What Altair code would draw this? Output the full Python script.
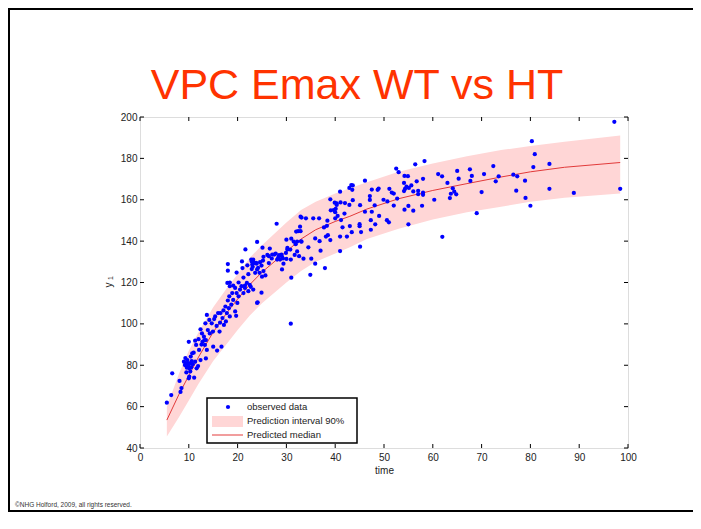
import altair as alt
import pandas as pd

# ---------------- data ----------------
obs_time = [
    5.5, 6.4, 6.6, 8.1, 8.5, 8.3, 9.0, 9.2, 9.4, 9.6, 9.7, 9.9, 10.1, 10.0, 10.1, 10.2, 10.4, 10.0, 10.5, 10.7,
    11.0, 11.1, 11.3, 11.3, 11.5, 11.6, 11.9, 12.0, 12.1, 12.4, 12.6, 12.8, 13.2, 13.3, 13.5, 13.7, 13.5, 12.4,
    12.7, 13.1, 13.4, 13.7, 13.9, 14.3, 14.2, 14.7, 14.95, 15.0, 15.2, 15.4, 15.7, 15.8, 16.0, 16.3, 16.4, 16.5,
    16.7, 16.9, 17.1, 17.2, 17.5, 17.6, 17.8, 18.0, 18.2, 18.3, 18.4, 18.7, 18.9, 19.1, 19.5, 19.7, 19.8, 19.95,
    20.2, 20.5, 20.8, 21.2, 21.5, 21.9, 22.2, 22.7, 23.2, 24.1, 17.9, 18.4, 19.5,
    9.3, 9.8, 10.3, 10.6, 9.5, 10.8,
    21.6, 20.9, 21.0, 18.0, 18.0, 22.0, 22.9, 23.2, 23.8, 19.8, 21.2, 22.2, 22.9, 18.4, 19.1, 20.2, 21.5, 22.5,
    32.9, 32.8, 32.9, 32.0, 32.4, 33.0, 32.2, 31.5, 31.9, 32.2, 32.6, 31.7, 30.8, 31.0, 30.9, 31.0, 30.0, 30.2,
    29.9, 30.0, 29.3, 29.0, 29.1, 28.7, 28.3, 28.5, 28.0, 27.8, 27.5, 27.0, 26.6, 26.4, 26.4, 26.1, 25.3, 25.1,
    25.2, 24.6, 24.9, 24.0, 24.0, 24.5, 22.8, 23.4, 23.0, 23.9, 23.6, 25.7, 25.3, 25.0, 24.2, 23.1, 29.4, 29.1,
    30.2, 28.1, 27.1, 30.9, 24.0, 24.9,
    97.2, 98.4, 88.9, 83.9, 83.9, 80.9, 80.3, 80.6, 80.0, 79.0, 78.9, 77.1, 77.3, 76.5, 73.5, 72.9, 72.4, 70.5,
    70.0, 69.0, 68.0, 67.7, 67.6, 65.3, 65.0, 64.8, 64.4, 64.1, 63.7, 63.5, 63.0, 61.95, 61.9, 61.1, 60.3, 58.3,
    58.0, 58.0, 58.0, 57.8, 57.0, 57.0, 56.7, 56.4, 56.0, 56.0, 55.6, 55.1, 54.9, 54.6, 54.3, 54.1, 54.2, 54.1,
    55.0, 55.0, 54.2, 53.0, 52.5, 52.7, 52.0, 51.6, 52.0, 51.1, 50.7, 51.0, 50.6, 49.9, 49.0, 48.7, 48.9, 48.1,
    48.2, 47.5, 47.5, 47.3, 47.3, 47.1, 47.1, 46.1, 46.1, 45.3, 45.1, 45.1, 45.0, 45.0, 43.6, 43.5, 43.6, 43.4,
    43.0, 43.3, 42.9, 42.9, 42.4, 42.0, 41.9, 41.5, 41.0, 41.0, 41.2, 41.1, 41.0, 40.5, 40.3, 40.0, 40.1, 40.3,
    40.0, 39.9, 39.7, 39.1, 39.0, 39.0, 38.5, 38.1, 37.9, 38.4, 38.3, 37.7, 37.0, 36.8, 36.7, 35.9, 35.9, 35.5,
    35.1, 34.9, 34.5, 34.0, 33.1, 33.5, 33.1,
]
obs_value = [
    61.9, 65.6, 76.1, 72.4, 69.0, 67.1, 81.7, 80.1, 80.9, 78.8, 82.5, 79.9, 78.5, 73.7, 74.5, 80.9, 84.2, 91.3, 79.0, 85.8,
    86.1, 74.0, 91.9, 81.7, 89.8, 78.5, 79.6, 92.6, 87.4, 82.5, 90.0, 91.3, 92.2, 89.8, 83.3, 87.4, 92.2, 97.4,
    95.4, 93.8, 100.3, 104.3, 97.0, 95.4, 101.9, 100.3, 96.3, 89.0, 102.3, 103.6, 99.0, 87.1, 105.2, 96.3, 100.6, 105.2,
    89.0, 102.8, 106.5, 99.5, 108.4, 101.2, 105.2, 111.3, 107.6, 113.3, 103.6, 109.3, 114.9, 111.6, 106.0, 103.9, 114.9, 110.1,
    113.3, 116.6, 118.2, 114.9, 117.4, 119.8, 115.8, 117.9, 116.6, 110.4, 119.8, 118.2, 117.4,
    83.5, 81.0, 77.0, 82.0, 76.5, 80.5,
    136.0, 130.2, 127.0, 128.9, 125.7, 128.3, 130.2, 131.0, 129.5, 124.8, 122.4, 124.0, 126.5, 120.0, 118.5, 120.0, 118.5, 118.8,
    151.8, 147.0, 144.8, 144.6, 144.8, 139.9, 139.8, 139.8, 138.5, 135.0, 132.7, 133.3, 135.9, 141.2, 131.1, 122.3, 140.7, 135.9,
    134.3, 131.4, 131.6, 133.5, 132.4, 131.1, 131.9, 133.2, 148.4, 134.0, 133.5, 131.6, 136.4, 132.7, 129.4, 133.3, 132.4, 136.8,
    130.6, 129.8, 128.2, 139.6, 126.3, 124.7, 131.1, 129.5, 128.7, 129.1, 124.7, 123.4, 125.5, 122.8, 127.1, 127.6, 129.1, 126.3,
    136.7, 131.1, 133.5, 100.1, 110.1, 115.1,
    197.7, 165.3, 163.3, 177.3, 165.3, 182.0, 188.3, 175.8, 157.1, 160.9, 169.2, 164.4, 171.3, 172.1, 171.3, 168.9, 176.3, 172.4,
    163.7, 153.5, 171.5, 169.1, 174.7, 170.2, 173.9, 162.6, 163.9, 165.5, 162.9, 160.8, 168.1, 142.1, 171.3, 172.4, 160.0, 178.7,
    170.1, 163.4, 162.4, 157.1, 164.3, 162.7, 168.9, 177.1, 164.0, 154.7, 166.9, 165.7, 171.4, 166.3, 165.2, 164.2, 171.5, 168.1,
    148.1, 157.0, 155.2, 173.3, 175.1, 160.6, 157.2, 163.5, 163.0, 165.3, 159.2, 149.1, 150.1, 160.0, 152.2, 164.8, 165.4, 157.3,
    148.1, 164.9, 154.2, 145.5, 150.1, 159.9, 161.8, 169.2, 154.2, 144.4, 157.4, 137.3, 147.2, 148.2, 166.9, 164.8, 159.8, 144.3,
    147.3, 167.1, 165.7, 157.5, 142.2, 158.4, 153.3, 146.7, 135.2, 142.2, 150.2, 158.7, 163.9, 152.2, 157.5, 154.0, 155.6, 158.2,
    151.0, 158.6, 155.0, 154.9, 160.2, 140.5, 142.9, 142.2, 127.0, 149.9, 147.4, 146.6, 135.4, 140.0, 151.0, 129.1, 141.3, 151.0,
    131.5, 123.7, 137.0, 151.0, 151.4, 131.5, 139.7,
]

band_time = [5.5, 8, 10, 12, 15, 18, 20, 22.5, 25, 30, 33, 36, 40, 43, 46.5, 53, 60, 67, 74, 80, 87, 98.4]
band_median = [53.5, 66, 75, 84, 96, 106, 112, 119, 125, 135, 141, 145.5, 149.5, 152, 155.5, 160.5, 164.5, 167.8, 171, 173.5, 175.7, 178]
band_lower = [45.5, 55, 63, 71, 82, 91, 97, 104, 110, 120, 125.5, 130, 134, 137, 141, 146, 150.5, 154, 156.6, 159, 161, 163]
band_upper = [60, 76, 87, 96, 108, 118, 124, 132, 138, 149, 155, 159, 163, 165.5, 168.5, 173.5, 177.5, 181, 184, 186, 188, 191]

x_ticks = [0, 10, 20, 30, 40, 50, 60, 70, 80, 90, 100]
y_ticks = [40, 60, 80, 100, 120, 140, 160, 180, 200]

legend_labels = ["observed data", "Prediction interval 90%", "Predicted median"]
title_text = "VPC Emax WT vs HT"
x_title = "time"
copyright_text = "\u00a9NHG Holford, 2009, all rights reserved."

# ---------------- layout ----------------
W, H = 488, 331
PAD = {"left": 132, "top": 109, "right": 65, "bottom": 64}
FONT = "Liberation Sans"

obs = pd.DataFrame({"t": obs_time, "v": obs_value})
band = pd.DataFrame({"t": band_time, "v": band_median, "lo": band_lower, "hi": band_upper})
xt = pd.DataFrame({"t": x_ticks})
yt = pd.DataFrame({"v": y_ticks})
one = pd.DataFrame({"a": [1]})

xs = alt.Scale(domain=[0, 100], nice=False, zero=False)
ys = alt.Scale(domain=[40, 200], nice=False, zero=False)

x_axis = alt.Axis(values=x_ticks, ticks=False, domain=False, grid=False, labelFont=FONT,
                  labelFontSize=10, labelColor="#222222", labelPadding=4, labelFlush=False,
                  titleFont=FONT, titleFontSize=10, titleFontWeight="normal", titleColor="#222222",
                  titlePadding=3)
y_axis = alt.Axis(values=y_ticks, ticks=False, domain=False, grid=False, labelFont=FONT,
                  labelFontSize=10, labelColor="#222222", labelPadding=3, labelFlush=False)

X = alt.X("t:Q", scale=xs, axis=x_axis, title=x_title)
Y = alt.Y("v:Q", scale=ys, axis=y_axis, title=None)

band_area = alt.Chart(band).mark_area(color="#ffd6d6", opacity=1).encode(
    x=X, y=alt.Y("lo:Q", scale=ys, axis=y_axis, title=None), y2="hi:Q")
median_line = alt.Chart(band).mark_line(color="#e23a3a", strokeWidth=1).encode(x=X, y=Y)
points = alt.Chart(obs).mark_circle(color="#0000ff", opacity=1, size=18).encode(x=X, y=Y)

xtick_bot = alt.Chart(xt).mark_rule(color="black", strokeWidth=1).encode(
    x=X, y=alt.value(H), y2=alt.value(H - 4))
xtick_top = alt.Chart(xt).mark_rule(color="black", strokeWidth=1).encode(
    x=X, y=alt.value(0), y2=alt.value(4))
ytick_l = alt.Chart(yt).mark_rule(color="black", strokeWidth=1).encode(
    y=Y, x=alt.value(0), x2=alt.value(4))
ytick_r = alt.Chart(yt).mark_rule(color="black", strokeWidth=1).encode(
    y=Y, x=alt.value(W - 4), x2=alt.value(W))

# legend box
leg_box = alt.Chart(one).mark_rect(fill="white", stroke="black", strokeWidth=1.5).encode(
    x=alt.value(67), x2=alt.value(217), y=alt.value(281), y2=alt.value(326))
leg_dot = alt.Chart(one).mark_circle(color="#0000ff", opacity=1, size=18).encode(
    x=alt.value(88), y=alt.value(290))
leg_band = alt.Chart(one).mark_rect(fill="#ffd6d6").encode(
    x=alt.value(72), x2=alt.value(103), y=alt.value(299), y2=alt.value(310))
leg_line = alt.Chart(one).mark_rect(fill="#e23a3a").encode(
    x=alt.value(72), x2=alt.value(103), y=alt.value(317.5), y2=alt.value(318.5))
leg_texts = [
    alt.Chart(one).mark_text(text=lbl, font=FONT, fontSize=9.5, color="#222222", align="left",
                             baseline="middle").encode(x=alt.value(107), y=alt.value(yy))
    for lbl, yy in zip(legend_labels, [290, 304, 318])
]

# title, y label, copyright, slide frame
title = alt.Chart(one).mark_text(text=title_text, font=FONT, fontSize=43,
                                 color="#ff3300", align="center", baseline="alphabetic").encode(
    x=alt.value(217), y=alt.value(-18))
ylab = alt.Chart(one).mark_text(text="y", font=FONT, fontSize=10, color="#222222", angle=270,
                                align="center", baseline="middle").encode(x=alt.value(-31.5), y=alt.value(168))
ysub = alt.Chart(one).mark_text(text="1", font=FONT, fontSize=7, color="#222222", angle=270,
                                align="center", baseline="middle").encode(x=alt.value(-29), y=alt.value(161))
copy = alt.Chart(one).mark_text(text=copyright_text, font=FONT, fontSize=6.5, color="#333333",
                                align="left", baseline="middle").encode(x=alt.value(-125), y=alt.value(388))
# slide frame (left, top and bottom sides) as thin filled bars
RIGHT = W + PAD["right"]
frame_top = alt.Chart(one).mark_rect(fill="black").encode(
    x=alt.value(-132), x2=alt.value(RIGHT), y=alt.value(-109), y2=alt.value(-107))
frame_left = alt.Chart(one).mark_rect(fill="black").encode(
    x=alt.value(-132), x2=alt.value(-130), y=alt.value(-109), y2=alt.value(395))
frame_bot = alt.Chart(one).mark_rect(fill="black").encode(
    x=alt.value(-132), x2=alt.value(RIGHT), y=alt.value(393), y2=alt.value(395))

chart = alt.layer(
    band_area, median_line, points,
    xtick_bot, xtick_top, ytick_l, ytick_r,
    leg_box, leg_dot, leg_band, leg_line, *leg_texts,
    title, ylab, ysub, copy, frame_top, frame_left, frame_bot,
).properties(
    width=W, height=H,
    autosize=alt.AutoSizeParams(type="none"),
    padding=PAD,
).configure_view(stroke="black", strokeWidth=1.5).configure(background="white")

chart.save("out.html", embed_options={"renderer": "svg", "actions": False})
